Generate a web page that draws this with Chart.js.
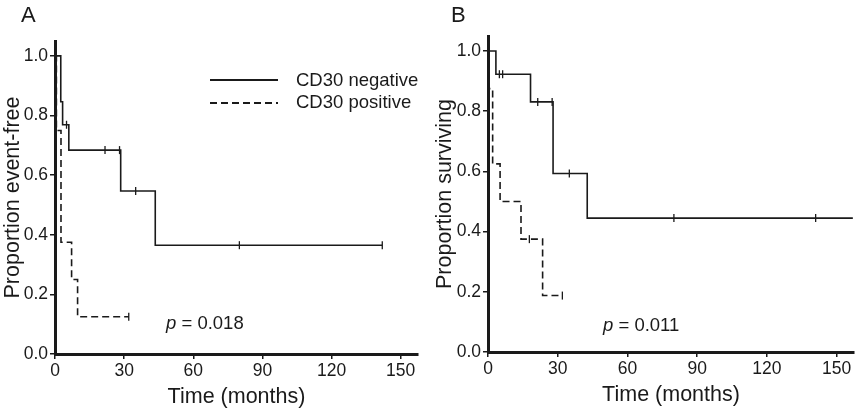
<!DOCTYPE html>
<html>
<head>
<meta charset="utf-8">
<script src="https://cdn.jsdelivr.net/npm/chart.js@4.4.1/dist/chart.umd.min.js"></script>
<style>
  body { margin: 0; background: #fff; font-family: "Liberation Sans", Arial, sans-serif; color: #1a1a1a; }
  #wrap { position: relative; width: 864px; height: 412px; overflow: hidden; }
  canvas { position: absolute; top: 0; }
  .txt { position: absolute; white-space: nowrap; line-height: 1; }
  .letter { font-size: 22px; }
  .leg { font-size: 18.5px; }
  .pval { font-size: 18.5px; }
  .lline { position: absolute; width: 68px; height: 1.6px; background: #1a1a1a; }
  .lline.dash { background: repeating-linear-gradient(to right, #1a1a1a 0 7px, transparent 7px 11px); }
</style>
</head>
<body>
<div id="wrap">
  <canvas id="chartA" width="432" height="412" style="left:0"></canvas>
  <canvas id="chartB" width="432" height="412" style="left:432px"></canvas>
  <div class="txt letter" style="left:21px;top:4px">A</div>
  <div class="txt letter" style="left:451px;top:4px">B</div>
  <div class="lline" style="left:210px;top:79px"></div>
  <div class="lline dash" style="left:210px;top:102px"></div>
  <div class="txt leg" style="left:296px;top:71px">CD30 negative</div>
  <div class="txt leg" style="left:296px;top:93px">CD30 positive</div>
  <div class="txt pval" style="left:166px;top:314px"><i>p</i> = 0.018</div>
  <div class="txt pval" style="left:603px;top:316px"><i>p</i> = 0.011</div>
</div>
<script>
const xTicks = [0, 30, 60, 90, 120, 150];
const yTicks = [0, 0.2, 0.4, 0.6, 0.8, 1.0];

// panel A: event-free
const aNegTime = [0, 2.5, 3.3, 6, 28.5, 43.5, 142];
const aNegProp = [1, 0.846, 0.769, 0.684, 0.547, 0.365, 0.365];
const aNegCensTime = [5, 21.7, 28, 35, 80, 142];
const aNegCensProp = [0.769, 0.684, 0.684, 0.547, 0.365, 0.365];
const aPosTime = [0, 0.6, 2.6, 7.2, 9.8, 32];
const aPosProp = [1, 0.75, 0.375, 0.25, 0.125, 0.125];
const aPosCensTime = [32];
const aPosCensProp = [0.125];

// panel B: surviving
const bNegTime = [0, 3.4, 18.3, 28, 42.7, 157];
const bNegProp = [1, 0.923, 0.831, 0.593, 0.445, 0.445];
const bNegCensTime = [0.5, 4.9, 6.3, 21.4, 27.6, 35, 80, 141];
const bNegCensProp = [1, 0.923, 0.923, 0.831, 0.831, 0.593, 0.445, 0.445];
const bPosTime = [0, 0.4, 2, 5.2, 14.2, 23.5, 32];
const bPosProp = [1, 0.875, 0.625, 0.5, 0.375, 0.1875, 0.1875];
const bPosCensTime = [17.8, 32];
const bPosCensProp = [0.375, 0.1875];

const ink = "#1a1a1a";
const pts = (t, p) => t.map((v, i) => ({ x: v, y: p[i] }));

function curve(t, p, dashed) {
  return {
    data: pts(t, p), showLine: true, stepped: true, borderColor: ink, borderWidth: 1.6,
    borderDash: dashed ? [7, 4] : [], pointRadius: 0, fill: false
  };
}
function cens(t, p) {
  return {
    data: pts(t, p), showLine: false, pointStyle: "line", rotation: 90,
    pointRadius: 4, borderColor: ink, borderWidth: 1.3
  };
}

function makeChart(id, datasets, yTitle, pad) {
  new Chart(document.getElementById(id), {
    type: "scatter",
    data: { datasets },
    options: {
      responsive: false,
      animation: false,
      layout: { padding: pad },
      plugins: { legend: { display: false }, tooltip: { enabled: false } },
      scales: {
        x: {
          type: "linear", min: 0, max: 157.5,
          afterBuildTicks: s => { s.ticks = xTicks.map(v => ({ value: v })); },
          afterFit: s => { s.height = 58; },
          ticks: { color: ink, font: { family: "Liberation Sans", size: 17.5 }, padding: 2, maxRotation: 0 },
          grid: { drawOnChartArea: false, drawTicks: true, tickLength: 5, color: ink, lineWidth: 1.5 },
          border: { display: true, color: ink, width: 3 },
          title: { display: true, text: "Time (months)", color: ink,
                   font: { family: "Liberation Sans", size: 21.5 }, padding: { top: 0, bottom: 2 } }
        },
        y: {
          type: "linear", min: 0, max: 1.05,
          afterBuildTicks: s => { s.ticks = yTicks.map(v => ({ value: v })); },
          afterFit: s => { s.width = pad.leftAxis; },
          ticks: { color: ink, font: { family: "Liberation Sans", size: 17.5 }, padding: 2,
                   callback: v => v.toFixed(1) },
          grid: { drawOnChartArea: false, drawTicks: true, tickLength: 5, color: ink, lineWidth: 1.5 },
          border: { display: true, color: ink, width: 3 },
          title: { display: true, text: yTitle, color: ink,
                   font: { family: "Liberation Sans", size: 21.5 }, padding: { top: 0, bottom: 0 } }
        }
      }
    }
  });
}

makeChart("chartA", [
  curve(aNegTime, aNegProp, false), cens(aNegCensTime, aNegCensProp),
  curve(aPosTime, aPosProp, true), cens(aPosCensTime, aPosCensProp)
], "Proportion event-free", { top: 41, right: 14, bottom: 0, left: 0, leftAxis: 55 });

makeChart("chartB", [
  curve(bNegTime, bNegProp, false), cens(bNegCensTime, bNegCensProp),
  curve(bPosTime, bPosProp, true), cens(bPosCensTime, bPosCensProp)
], "Proportion surviving", { top: 36, right: 10, bottom: 2, left: 0, leftAxis: 56 });
</script>
</body>
</html>
